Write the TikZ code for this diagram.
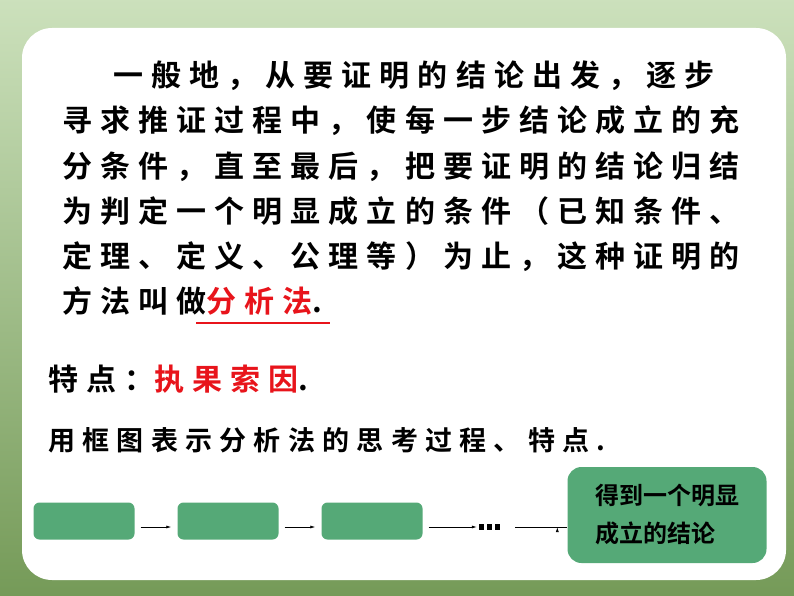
\documentclass[tikz,border=0pt]{standalone}
\usepackage{fontspec}
\newfontfamily\cjk[LetterSpace=27]{Noto Sans CJK SC Bold}
\newfontfamily\cjkb{Noto Sans CJK SC Bold}
\definecolor{boxg}{HTML}{55A977}
\definecolor{bgg}{HTML}{7FB357}
\definecolor{redt}{HTML}{E8141B}
\usetikzlibrary{arrows.meta,calc}
\tikzset{
 line/.style={anchor=base west,font=\cjk\fontsize{30}{30}\selectfont,inner sep=0pt},
 gbox/.style={fill=boxg,rounded corners=6pt,minimum width=101pt,minimum height=37pt,inner sep=0pt},
 arr/.style={-{Latex[length=5pt,width=3pt]},line width=0.7pt}
}
\begin{document}
\begin{tikzpicture}[x=1pt,y=-1pt]
\useasboundingbox (0,0) rectangle (794,596);
\shade[top color=bgg!40!white,bottom color=bgg!80!black!90] (0,0) rectangle (794,596);
\fill[white,rounded corners=30pt] (22,28) rectangle (786,580);
\node[line] (l1) at (113,87) {一般地，从要证明的结论出发，逐步};
\node[line] (l2) at (62,132) {寻求推证过程中，使每一步结论成立的充};
\node[line] (l3) at (62,177) {分条件，直至最后，把要证明的结论归结};
\node[line] (l4) at (62,222) {为判定一个明显成立的条件（已知条件、};
\node[line] (l5) at (62,267) {定理、定义、公理等）为止，这种证明的};
\node[line] (l6) at (62,312) {方法叫做\textcolor{redt}{分析法}.};
\draw[redt,line width=1.5pt] (196,323) -- (330,323);
\node[line] (t1) at (48,390) {特点：\textcolor{redt}{执果索因}.};
\node[line,font=\cjk\fontsize{27}{27}\selectfont] (t2) at (48,450) {用框图表示分析法的思考过程、特点.};
\node[gbox] (b1) at (84,521) {};
\node[gbox] (b2) at (228,521) {};
\node[gbox] (b3) at (372,521) {};
\node[fill=boxg,rounded corners=14pt,minimum width=199pt,minimum height=96pt,inner sep=0pt,align=left,font=\cjkb\fontsize{24}{38}\selectfont] (b4) at (667,515) {得到一个明显\\成立的结论};
\node[inner sep=0pt,minimum width=24pt,minimum height=6pt] (dots) at (489,527) {};
\foreach \i in {-8,0,8} \fill ($(dots)+(\i-2.5,-3)$) rectangle ++(5,6);
\draw[arr] ($(b1.east)+(6,6)$) -- ($(b2.west)+(-6,6)$);
\draw[arr] ($(b2.east)+(6,6)$) -- ($(b3.west)+(-6,6)$);
\draw[arr] ($(b3.east)+(6,6)$) -- (dots.west);
\draw[arr] ($(dots.east)+(14,0)$) -- (dots.east -| b4.west) ++(-10,0);
\end{tikzpicture}
\end{document}
